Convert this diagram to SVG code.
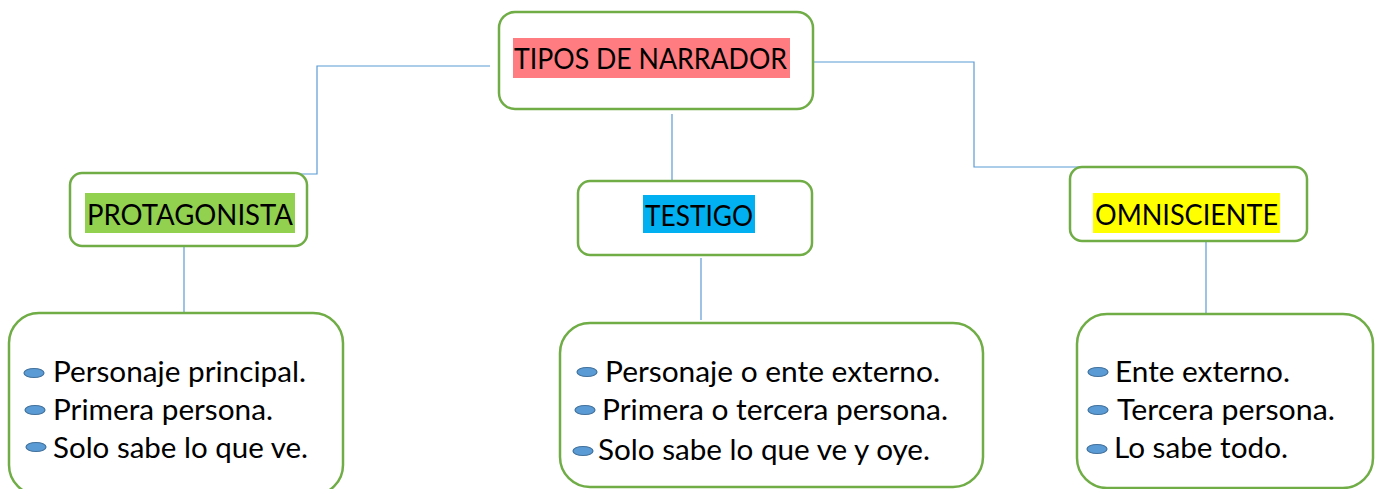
<svg xmlns="http://www.w3.org/2000/svg" width="1377" height="489" viewBox="0 0 1377 489">
<style>
.box{fill:#fff;stroke:#70ad47;stroke-width:2.5}
.con{fill:none;stroke:#5b9bd5;stroke-width:1.2}
.h{font-family:Lato,"Open Sans",sans-serif;font-size:29px;fill:#000}
.t{font-family:Lato,"Open Sans",sans-serif;font-size:28px;fill:#000}
.b{fill:#5b9bd5;stroke:#41719c;stroke-width:1.2}
</style>
<rect width="1377" height="489" fill="#fff"/>
<g id="connectors">
<path class="con" d="M490,66 H317 V174 H143"/>
<path class="con" d="M813,62 H974 V167 H1135"/>
<path class="con" d="M672,114 V186"/>
<path class="con" d="M184,246 V313"/>
<path class="con" d="M701,258 V320"/>
<path class="con" d="M1206,237 V314"/>
</g>
<g id="tipos">
<rect class="box" x="499" y="12" width="314" height="97" rx="16"/>
<rect x="513" y="38" width="277" height="40" fill="#ff7c80"/>
<text class="h" x="514" y="69" textLength="273" lengthAdjust="spacingAndGlyphs">TIPOS DE NARRADOR</text>
</g>
<g id="protagonista">
<rect class="box" x="70" y="173" width="237" height="73" rx="12"/>
<rect x="85" y="193" width="210" height="40" fill="#92d050"/>
<text class="h" x="87" y="225" textLength="206" lengthAdjust="spacingAndGlyphs">PROTAGONISTA</text>
</g>
<g id="testigo">
<rect class="box" x="578" y="181" width="234" height="74" rx="12"/>
<rect x="643" y="195" width="112" height="38" fill="#00b0f0"/>
<text class="h" x="645" y="226" textLength="108" lengthAdjust="spacingAndGlyphs">TESTIGO</text>
</g>
<g id="omnisciente">
<rect class="box" x="1070" y="167" width="237" height="74" rx="12"/>
<rect x="1093" y="193" width="187" height="40" fill="#ffff00"/>
<text class="h" x="1095" y="225" textLength="183" lengthAdjust="spacingAndGlyphs">OMNISCIENTE</text>
</g>
<g id="protagonista-list">
<rect class="box" x="9" y="313" width="334" height="182" rx="30"/>
<ellipse class="b" cx="34" cy="373" rx="10" ry="4.5"/>
<ellipse class="b" cx="35" cy="410" rx="10" ry="4.5"/>
<ellipse class="b" cx="36" cy="447" rx="10" ry="4.5"/>
<text class="t" x="53" y="382" textLength="253" lengthAdjust="spacingAndGlyphs">Personaje principal.</text>
<text class="t" x="53" y="420" textLength="220" lengthAdjust="spacingAndGlyphs">Primera persona.</text>
<text class="t" x="53" y="458" textLength="255" lengthAdjust="spacingAndGlyphs">Solo sabe lo que ve.</text>
</g>
<g id="testigo-list">
<rect class="box" x="560" y="323" width="423" height="164" rx="30"/>
<ellipse class="b" cx="587" cy="372" rx="10" ry="4.5"/>
<ellipse class="b" cx="585" cy="410" rx="10" ry="4.5"/>
<ellipse class="b" cx="583" cy="451" rx="10" ry="4.5"/>
<text class="t" x="605" y="382" textLength="335" lengthAdjust="spacingAndGlyphs">Personaje o ente externo.</text>
<text class="t" x="602" y="420" textLength="346" lengthAdjust="spacingAndGlyphs">Primera o tercera persona.</text>
<text class="t" x="598" y="460" textLength="332" lengthAdjust="spacingAndGlyphs">Solo sabe lo que ve y oye.</text>
</g>
<g id="omnisciente-list">
<rect class="box" x="1077" y="314" width="296" height="174" rx="30"/>
<ellipse class="b" cx="1098" cy="372" rx="10" ry="4.5"/>
<ellipse class="b" cx="1098" cy="410" rx="10" ry="4.5"/>
<ellipse class="b" cx="1097" cy="449" rx="10" ry="4.5"/>
<text class="t" x="1115" y="382" textLength="175" lengthAdjust="spacingAndGlyphs">Ente externo.</text>
<text class="t" x="1117" y="420" textLength="218" lengthAdjust="spacingAndGlyphs">Tercera persona.</text>
<text class="t" x="1114" y="458" textLength="174" lengthAdjust="spacingAndGlyphs">Lo sabe todo.</text>
</g>
</svg>
